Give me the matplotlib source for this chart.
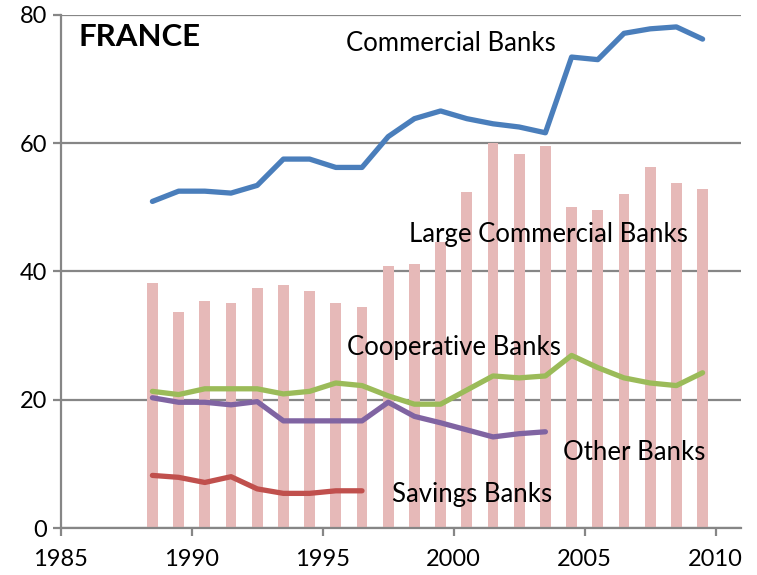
import matplotlib
matplotlib.use("Agg")
import matplotlib.pyplot as plt
import numpy as np

plt.rcParams['font.family'] = ['Lato', 'DejaVu Sans']

years = list(range(1988, 2010))
large_commercial = [38.2, 33.7, 35.4, 35.0, 37.4, 37.9, 37.0, 35.0, 34.5, 40.8, 41.2,
                    44.5, 52.4, 60.0, 58.3, 59.5, 50.0, 49.5, 52.0, 56.2, 53.7, 52.9]
commercial = [50.9, 52.5, 52.5, 52.2, 53.4, 57.5, 57.5, 56.2, 56.2, 61.0, 63.8,
              65.0, 63.8, 63.0, 62.5, 61.6, 73.4, 73.0, 77.1, 77.8, 78.1, 76.2]
cooperative = [21.3, 20.8, 21.7, 21.7, 21.7, 20.9, 21.3, 22.6, 22.2, 20.6, 19.3,
               19.3, 21.5, 23.7, 23.4, 23.7, 26.9, 25.0, 23.4, 22.6, 22.2, 24.2]
other_years = list(range(1988, 2004))
other = [20.3, 19.6, 19.6, 19.2, 19.7, 16.7, 16.7, 16.7, 16.7, 19.6, 17.4,
         16.4, 15.3, 14.2, 14.7, 15.0]
savings_years = list(range(1988, 1997))
savings = [8.2, 7.9, 7.1, 8.0, 6.1, 5.4, 5.4, 5.8, 5.8]
x_ticks = [1985, 1990, 1995, 2000, 2005, 2010]
y_ticks = [0, 20, 40, 60, 80]

off = 0.5
fig = plt.figure(figsize=(7.57, 5.75), dpi=100)
ax = fig.add_axes([0.0802, 0.0817, 0.979 - 0.0802, 0.9744 - 0.0817])

gridc = '#868686'
ax.set_xlim(1985, 2010.97)
ax.set_ylim(0, 80)
ax.set_yticks(y_ticks)
ax.set_xticks(x_ticks)
ax.yaxis.grid(True, color=gridc, linewidth=1.6, zorder=0)
ax.set_axisbelow(True)
for s in ['top', 'right']:
    ax.spines[s].set_visible(False)
for s in ['left', 'bottom']:
    ax.spines[s].set_color(gridc)
    ax.spines[s].set_linewidth(1.6)
ax.tick_params(axis='both', colors=gridc, width=1.6, length=6, labelsize=17,
               labelcolor='black', direction='out')
ax.tick_params(axis='x', pad=9)
ax.tick_params(axis='y', pad=4)

xb = np.array(years) + off
ax.bar(xb, large_commercial, width=0.41, color='#E6B9B8', zorder=2)

lw = 3.8
kw = dict(lw=lw, zorder=3, solid_capstyle='round', solid_joinstyle='round')
ax.plot(xb, commercial, color='#4A7EBB', **kw)
ax.plot(xb, cooperative, color='#9BBB59', **kw)
ax.plot(np.array(other_years) + off, other, color='#8064A2', **kw)
ax.plot(np.array(savings_years) + off, savings, color='#C0504D', **kw)

fs = 18.5
ax.text(1985.66, 76.5, 'FRANCE', fontsize=22.5, fontweight='bold', ha='left', va='center', zorder=5)
ax.text(1999.9, 75.5, 'Commercial Banks', fontsize=fs, ha='center', va='center', zorder=5)
ax.text(2003.6, 45.8, 'Large Commercial Banks', fontsize=fs, ha='center', va='center', zorder=5)
ax.text(2000.0, 28.1, 'Cooperative Banks', fontsize=fs, ha='center', va='center', zorder=5)
ax.text(2006.9, 11.7, 'Other Banks', fontsize=fs, ha='center', va='center', zorder=5)
ax.text(2000.7, 5.2, 'Savings Banks', fontsize=fs, ha='center', va='center', zorder=5)

fig.savefig('out.png', dpi=100)
